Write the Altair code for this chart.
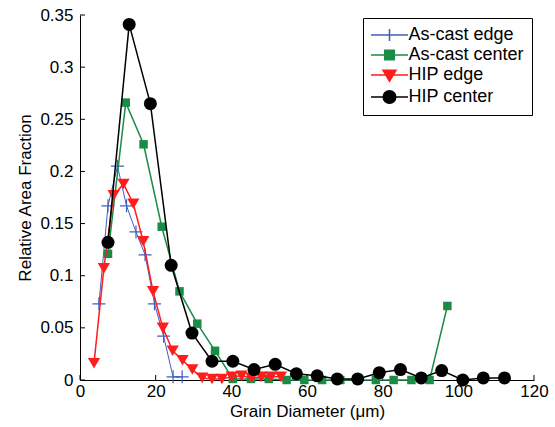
import altair as alt
import pandas as pd

FONT = "Liberation Sans"

series = ["As-cast edge", "As-cast center", "HIP edge", "HIP center"]
colors = ["#3d5fc4", "#1a8c45", "#ff1c1c", "#000000"]

ace_x = [5.0, 7.4, 9.9, 12.3, 14.8, 17.2, 19.7, 22.1, 24.6, 27.0]
ace_y = [0.073, 0.167, 0.205, 0.167, 0.142, 0.120, 0.073, 0.042, 0.003, 0.003]

acc_x = [7.4, 12.1, 16.8, 21.6, 26.3, 31.0, 35.7, 40.4, 45.2, 49.9,
         54.6, 59.3, 64.0, 68.8, 73.5, 78.2, 82.9, 87.6, 92.4, 97.1]
acc_y = [0.121, 0.266, 0.226, 0.147, 0.085, 0.054, 0.028, 0.001, 0.001, 0.001,
         0.000, 0.000, 0.000, 0.000, 0.000, 0.000, 0.000, 0.000, 0.000, 0.071]

hipe_x = [3.7, 6.3, 8.9, 11.5, 14.1, 16.7, 19.3, 21.9, 24.5, 27.1,
          29.7, 32.3, 34.9, 37.5, 40.1, 42.7, 45.3, 47.9, 50.5, 53.1]
hipe_y = [0.016, 0.107, 0.177, 0.188, 0.169, 0.133, 0.085, 0.050, 0.028, 0.019,
          0.010, 0.002, 0.001, 0.001, 0.003, 0.004, 0.002, 0.003, 0.003, 0.003]

hipc_x = [7.4, 13.0, 18.6, 24.1, 29.6, 34.9, 40.4, 46.0, 51.6, 57.2,
          62.7, 68.0, 73.4, 79.1, 84.7, 90.2, 95.6, 101.2, 106.6, 112.2]
hipc_y = [0.132, 0.341, 0.265, 0.110, 0.045, 0.018, 0.018, 0.010, 0.015, 0.006,
          0.004, 0.001, 0.001, 0.007, 0.010, 0.002, 0.009, 0.000, 0.002, 0.002]

x_ticks = [0, 20, 40, 60, 80, 100, 120]
y_ticks = [0, 0.05, 0.1, 0.15, 0.2, 0.25, 0.3, 0.35]

xs_list = [ace_x, acc_x, hipe_x, hipc_x]
ys_list = [ace_y, acc_y, hipe_y, hipc_y]

frames = []
for name, xv, yv in zip(series, xs_list, ys_list):
    frames.append(pd.DataFrame({"series": name, "d": xv, "f": yv}))
df = pd.concat(frames, ignore_index=True)

W, H = 454, 365

xscale = alt.Scale(domain=[0, 120], nice=False, zero=False)
yscale = alt.Scale(domain=[0, 0.35], nice=False, zero=False)

x_axis = alt.Axis(values=x_ticks, tickSize=0, labelPadding=3, labelFontSize=17,
                  labelFont=FONT, labelColor="black", labelFlush=False,
                  title="Grain Diameter (\u03bcm)", titleFontSize=17, titleFont=FONT,
                  titleFontWeight="normal", titleColor="black", titlePadding=4,
                  domainColor="black", domainWidth=1, grid=False)
y_axis = alt.Axis(values=y_ticks, format="~g", tickSize=0, labelPadding=7, labelFontSize=17,
                  labelFont=FONT, labelColor="black", labelFlush=False,
                  title="Relative Area Fraction", titleFontSize=17, titleFont=FONT,
                  titleFontWeight="normal", titleColor="black", titlePadding=5,
                  domainColor="black", domainWidth=1, grid=False)

X = alt.X("d:Q", scale=xscale, axis=x_axis)
Y = alt.Y("f:Q", scale=yscale, axis=y_axis)

plus = "M-1,0H1M0,-1V1"
marker_specs = [
    dict(shape=plus, filled=False, size=169, strokeWidth=1.2),
    dict(shape="square", filled=True, size=72, strokeWidth=0),
    dict(shape="triangle-down", filled=True, size=150, strokeWidth=0),
    dict(shape="circle", filled=True, size=169, strokeWidth=0),
]
line_widths = [1.0, 1.5, 1.5, 1.5]

layers = []
# ticks drawn inward
xt = pd.DataFrame({"d": x_ticks})
yt = pd.DataFrame({"f": y_ticks})
layers.append(alt.Chart(xt).mark_rule(color="black", strokeWidth=1).encode(
    x=X, y=alt.value(H), y2=alt.value(H - 5)))
layers.append(alt.Chart(yt).mark_rule(color="black", strokeWidth=1).encode(
    y=Y, x=alt.value(0), x2=alt.value(5)))

for name, col, lw, spec in zip(series, colors, line_widths, marker_specs):
    sub = df[df["series"] == name]
    layers.append(alt.Chart(sub).mark_line(color=col, strokeWidth=lw).encode(x=X, y=Y))
    layers.append(alt.Chart(sub).mark_point(color=col, opacity=1, **spec).encode(x=X, y=Y))

# legend symbols: line sample with marker (unit = 6 px, symbolSize 144)
legend_paths = [
    "M-3.08,0H3.08M0,-1V1",
    "M-3.08,0H3.08M-0.8,-0.8H0.8V0.8H-0.8Z",
    "M-3.08,0H3.08M-1.08,-0.8H1.08L0,1.05Z",
    "M-3.08,0H3.08M-1.05,0A1.05,1.05 0 1,0 1.05,0A1.05,1.05 0 1,0 -1.05,0Z",
]
leg = alt.Legend(title=None, orient="none", legendX=283, legendY=3,
                 strokeColor="black", fillColor="white", padding=8,
                 symbolSize=144, symbolStrokeWidth=1.5, symbolOpacity=1,
                 symbolOffset=9.5,
                 labelFontSize=18, labelFont=FONT, labelColor="black",
                 labelOffset=10, rowPadding=2, labelLimit=300)
cscale = alt.Scale(domain=series, range=colors)
layers.append(alt.Chart(df).transform_filter("false").mark_point(filled=True, opacity=1).encode(
    x=X, y=Y,
    fill=alt.Fill("series:N", scale=cscale, legend=leg),
    stroke=alt.Stroke("series:N", scale=cscale, legend=leg),
    shape=alt.Shape("series:N", scale=alt.Scale(domain=series, range=legend_paths), legend=leg),
))

chart = alt.layer(*layers).properties(
    width=W, height=H,
    autosize=alt.AutoSizeParams(type="none"),
    padding={"left": 80, "top": 15, "right": 21, "bottom": 47},
    background="white",
).configure_view(stroke=None)

chart.save("out.html", embed_options={"renderer": "svg", "actions": False})
